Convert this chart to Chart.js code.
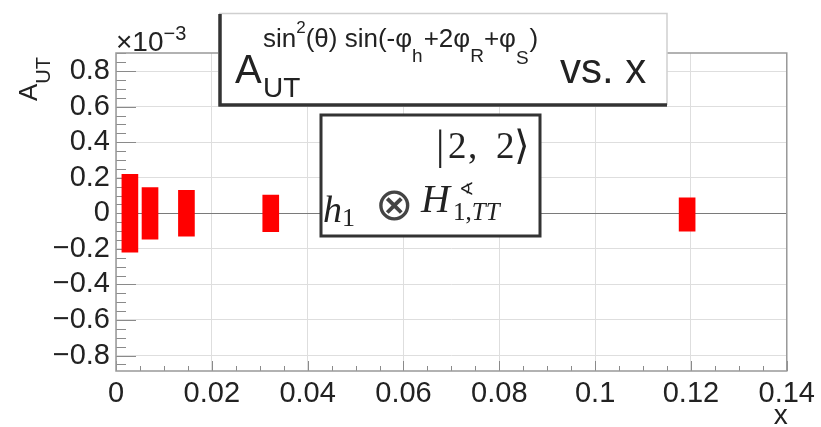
<!DOCTYPE html>
<html>
<head>
<meta charset="utf-8">
<script src="https://cdn.jsdelivr.net/npm/chart.js"></script>
<style>
  html, body { margin: 0; padding: 0; background: #fff; }
  #c { display: block; }
</style>
</head>
<body>
<canvas id="c" width="821" height="427"></canvas>
<script>
// datos (eje y en unidades de 10^-3)
const xCenters   = [0.0029, 0.0071, 0.0147, 0.0323, 0.1192];
const asymValues = [0.000, 0.000, 0.000, 0.000, -0.007];
const asymErrors = [0.219, 0.145, 0.129, 0.103, 0.094];
const xTicks = [0, 0.02, 0.04, 0.06, 0.08, 0.1, 0.12, 0.14];
const yTicks = [-0.8, -0.6, -0.4, -0.2, 0, 0.2, 0.4, 0.6, 0.8];

const SANS = '"Liberation Sans", Arial, sans-serif';
const SERIF = '"Liberation Serif", "DejaVu Serif", serif';

function fmtY(v) {
  if (v === 0) return '0';
  return (v < 0 ? '\u2212' : '') + Math.abs(v).toFixed(1);
}
function fmtX(v) {
  return String(Number(v.toFixed(2)));
}

// dibuja un texto compuesto por trozos [texto, fuente, dy, extra]
function drawRun(ctx, x, y, pieces) {
  let cx = x;
  pieces.forEach(p => {
    ctx.font = p[1];
    ctx.fillText(p[0], cx, y + (p[2] || 0));
    cx += ctx.measureText(p[0]).width + (p[3] || 0);
  });
  return cx;
}

// marco y ticks estilo ROOT
const frameTicks = {
  id: 'frameTicks',
  beforeDatasetsDraw(chart) {
    const ctx = chart.ctx, a = chart.chartArea;
    const xs = chart.scales.x, ys = chart.scales.y;
    ctx.save();
    ctx.strokeStyle = '#8a8a8a';
    ctx.lineWidth = 1;
    ctx.beginPath();
    // eje y: mayores cada 0.2, menores cada 0.05
    for (let i = Math.ceil(ys.min / 0.05); i * 0.05 <= ys.max + 1e-9; i++) {
      const py = Math.round(ys.getPixelForValue(i * 0.05)) + 0.5;
      const len = (i % 4 === 0) ? 20 : 10;
      ctx.moveTo(a.left, py);
      ctx.lineTo(a.left + len, py);
    }
    // eje x: mayores cada 0.02, menores cada 0.005
    for (let i = Math.ceil(xs.min / 0.005); i * 0.005 <= xs.max + 1e-9; i++) {
      const px = Math.round(xs.getPixelForValue(i * 0.005)) + 0.5;
      const len = (i % 4 === 0) ? 10 : 5;
      ctx.moveTo(px, a.bottom);
      ctx.lineTo(px, a.bottom - len);
    }
    ctx.stroke();
    ctx.lineWidth = 1.5;
    ctx.strokeStyle = '#999';
    ctx.strokeRect(a.left, a.top, a.right - a.left, a.bottom - a.top);
    ctx.restore();
  },
  afterDraw(chart) {
    const ctx = chart.ctx, a = chart.chartArea;
    ctx.save();
    ctx.fillStyle = '#222';
    ctx.textBaseline = 'alphabetic';
    ctx.textAlign = 'left';

    // multiplicador del eje y
    drawRun(ctx, a.left, 51, [
      ['\u00d710', '28px ' + SANS, 0],
      ['\u22123', '20px ' + SANS, -11]
    ]);

    // etiqueta del eje y
    ctx.save();
    ctx.translate(37, 101);
    ctx.rotate(-Math.PI / 2);
    drawRun(ctx, 0, 0, [
      ['A', '26px ' + SANS, 0],
      ['UT', '20px ' + SANS, 13]
    ]);
    ctx.restore();

    // etiqueta del eje x
    ctx.textAlign = 'right';
    ctx.font = '28px ' + SANS;
    ctx.fillText('x', a.right + 1, 424);
    ctx.textAlign = 'left';

    // caja del titulo
    ctx.fillStyle = '#fff';
    ctx.fillRect(218, 13, 449, 94);
    ctx.strokeStyle = '#cfcfcf';
    ctx.lineWidth = 1.5;
    ctx.beginPath();
    ctx.moveTo(219, 13.5); ctx.lineTo(667, 13.5); ctx.lineTo(667, 105);
    ctx.stroke();
    ctx.strokeStyle = '#333';
    ctx.lineWidth = 3.5;
    ctx.beginPath();
    ctx.moveTo(220, 14); ctx.lineTo(220, 105); ctx.lineTo(667, 105);
    ctx.stroke();

    ctx.fillStyle = '#222';
    drawRun(ctx, 235, 83, [['A', '40px ' + SANS, 0]]);
    drawRun(ctx, 263, 97, [['UT', '28px ' + SANS, 0]]);
    drawRun(ctx, 263, 47, [
      ['sin', '26px ' + SANS, 0],
      ['2', '17px ' + SANS, -14],
      ['(\u03b8) sin(-\u03c6', '26px ' + SANS, 0],
      ['h', '19px ' + SANS, 15, 1],
      ['+2\u03c6', '26px ' + SANS, 0],
      ['R', '19px ' + SANS, 15],
      ['+\u03c6', '26px ' + SANS, 0],
      ['S', '19px ' + SANS, 17, 1],
      [')', '26px ' + SANS, 0]
    ]);
    drawRun(ctx, 560, 83, [['vs. x', '42px ' + SANS, 0]]);

    // caja de la leyenda
    ctx.fillStyle = '#fff';
    ctx.fillRect(320, 114, 221, 123);
    ctx.strokeStyle = '#333';
    ctx.lineWidth = 3;
    ctx.strokeRect(321, 115, 219, 121);

    ctx.fillStyle = '#222';
    drawRun(ctx, 436, 159, [['|', '42px ' + SERIF, 0]]);
    drawRun(ctx, 448, 158, [['2', '37px ' + SERIF, 0]]);
    drawRun(ctx, 468, 158, [[',', '37px ' + SERIF, 0]]);
    drawRun(ctx, 496, 158, [['2', '37px ' + SERIF, 0]]);
    drawRun(ctx, 514, 159, [['\u27e9', '40px ' + SERIF, 0]]);

    drawRun(ctx, 323, 222, [
      ['h', 'italic 38px ' + SERIF, 0],
      ['1', '26px ' + SERIF, 4]
    ]);
    ctx.fillStyle = '#444';
    drawRun(ctx, 375, 220, [['\u2297', '46px "DejaVu Sans", ' + SERIF, 0]]);
    ctx.fillStyle = '#222';
    drawRun(ctx, 421, 212, [['H', 'italic 40px ' + SERIF, 0]]);
    drawRun(ctx, 459, 195, [['\u2222', '18px "DejaVu Sans", ' + SERIF, 0]]);
    drawRun(ctx, 453, 220, [
      ['1,', '25px ' + SERIF, 0],
      ['TT', 'italic 25px ' + SERIF, 0]
    ]);
    ctx.restore();
  }
};

new Chart(document.getElementById('c'), {
  type: 'bar',
  data: {
    datasets: [{
      data: xCenters.map((x, i) => ({
        x: x,
        y: [asymValues[i] - asymErrors[i], asymValues[i] + asymErrors[i]]
      })),
      backgroundColor: '#ff0000',
      borderWidth: 0,
      borderSkipped: false,
      barThickness: 16,
      grouped: false
    }]
  },
  options: {
    responsive: false,
    animation: false,
    layout: { padding: { top: 53, right: 34, left: 0, bottom: 0 } },
    plugins: { legend: { display: false }, tooltip: { enabled: false } },
    scales: {
      x: {
        type: 'linear',
        offset: false,
        min: 0,
        max: 0.14,
        afterBuildTicks: s => { s.ticks = xTicks.map(v => ({ value: v })); },
        afterFit: s => { s.height = 56; },
        ticks: {
          callback: v => fmtX(v),
          font: { family: SANS, size: 29 },
          color: '#222',
          padding: 6,
          maxRotation: 0,
          autoSkip: false
        },
        grid: { offset: false, color: '#dedede', drawTicks: false, lineWidth: 1 },
        border: { display: false }
      },
      y: {
        type: 'linear',
        min: -0.887,
        max: 0.902,
        afterBuildTicks: s => { s.ticks = yTicks.map(v => ({ value: v })); },
        afterFit: s => { s.width = 116; },
        ticks: {
          callback: v => fmtY(v),
          font: { family: SANS, size: 29 },
          color: '#222',
          padding: 6,
          autoSkip: false
        },
        grid: {
          color: c => (c.tick && c.tick.value === 0) ? '#7a7a7a' : '#dedede',
          drawTicks: false,
          lineWidth: 1
        },
        border: { display: false }
      }
    }
  },
  plugins: [frameTicks]
});
</script>
</body>
</html>
